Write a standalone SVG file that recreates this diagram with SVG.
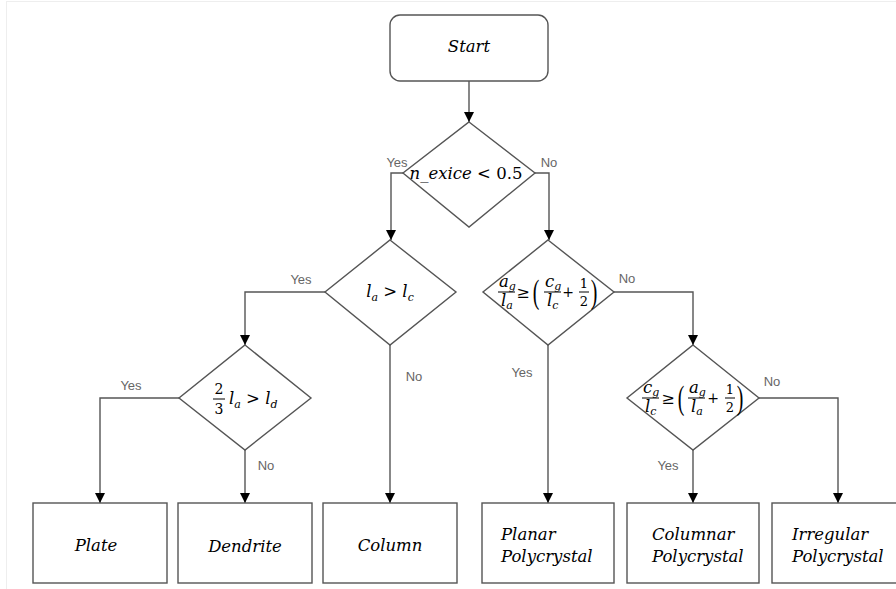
<svg xmlns="http://www.w3.org/2000/svg" width="896" height="589" viewBox="0 0 896 589">
<defs>
<marker id="ah" viewBox="0 0 10 10" refX="10" refY="5" markerWidth="10" markerHeight="10" markerUnits="userSpaceOnUse" orient="auto">
<path d="M0,0 L10,5 L0,10 z" fill="#000"/>
</marker>
<style>
.shape{fill:#fff;stroke:#555;stroke-width:1.4}
.conn{fill:none;stroke:#555;stroke-width:1.4;marker-end:url(#ah)}
.lbl{font-family:"Liberation Sans",Arial,sans-serif;font-size:13px;fill:#666}
.t{font-family:"DejaVu Serif",serif;font-style:italic;font-size:16.5px;fill:#000}
.m{font-family:"DejaVu Serif",serif;font-style:italic;font-size:16.5px;fill:#000}
.ms{font-family:"DejaVu Serif",serif;font-style:italic;font-size:11px;fill:#000}
.u{font-family:"DejaVu Serif",serif;font-style:normal;fill:#000}
.p{font-family:"Liberation Serif",serif;font-style:normal;fill:#000;font-size:22px}
.bar{stroke:#000;stroke-width:1}
</style>
</defs>
<rect width="896" height="589" fill="#fff"/>
<line x1="6.5" y1="1" x2="6.5" y2="589" stroke="#eee" stroke-width="1"/>
<line x1="6" y1="1.5" x2="896" y2="1.5" stroke="#eee" stroke-width="1"/>

<g id="connectors">
<path class="conn" d="M469,81 V122"/>
<path class="conn" d="M403,173 H391 V240"/>
<path class="conn" d="M535,173 H549 V240"/>
<path class="conn" d="M325,292 H245 V345"/>
<path class="conn" d="M390,345 V503"/>
<path class="conn" d="M179,398 H100 V503"/>
<path class="conn" d="M245,450 V503"/>
<path class="conn" d="M548,345 V503"/>
<path class="conn" d="M614,292 H693 V345"/>
<path class="conn" d="M693,450 V503"/>
<path class="conn" d="M759,398 H838 V503"/>
<text class="lbl" x="397" y="167" text-anchor="middle">Yes</text>
<text class="lbl" x="549" y="167" text-anchor="middle">No</text>
<text class="lbl" x="301" y="284" text-anchor="middle">Yes</text>
<text class="lbl" x="414" y="381" text-anchor="middle">No</text>
<text class="lbl" x="131" y="390" text-anchor="middle">Yes</text>
<text class="lbl" x="266" y="470" text-anchor="middle">No</text>
<text class="lbl" x="522" y="377" text-anchor="middle">Yes</text>
<text class="lbl" x="627" y="283" text-anchor="middle">No</text>
<text class="lbl" x="772" y="386" text-anchor="middle">No</text>
<text class="lbl" x="668" y="470" text-anchor="middle">Yes</text>
</g>

<g id="start">
<rect class="shape" x="390" y="15" width="158" height="66" rx="10"/>
<text class="t" x="469" y="52" text-anchor="middle">Start</text>
</g>

<g id="d1">
<path class="shape" d="M469,122 L535,173 L469,227 L403,173 Z"/>
<text class="m" x="466" y="179" text-anchor="middle" font-size="16">n_exice &lt; <tspan class="u">0.5</tspan></text>
</g>

<g id="d2">
<path class="shape" d="M390,240 L456,292 L390,345 L325,292 Z"/>
<text class="m" x="390" y="297" text-anchor="middle">l<tspan class="ms" dy="4">a</tspan><tspan dy="-4"> &gt; l</tspan><tspan class="ms" dy="4">c</tspan></text>
</g>

<g id="d3">
<path class="shape" d="M548,240 L614,292 L548,345 L483,292 Z"/>
<text class="m" x="499" y="287" font-size="14">a<tspan class="ms" font-size="9" dy="3">g</tspan></text>
<line class="bar" x1="498" y1="292" x2="515" y2="292"/>
<text class="m" x="501" y="306" font-size="14">l<tspan class="ms" font-size="9" dy="3">a</tspan></text>
<text class="u" x="523" y="298" font-size="16" text-anchor="middle">≥</text>
<text class="p" transform="translate(536,303) scale(0.9,1.5)" text-anchor="middle">(</text>
<text class="m" x="545" y="287" font-size="14">c<tspan class="ms" font-size="9" dy="3">g</tspan></text>
<line class="bar" x1="544" y1="292" x2="561" y2="292"/>
<text class="m" x="547" y="306" font-size="14">l<tspan class="ms" font-size="9" dy="3">c</tspan></text>
<text class="u" x="568" y="297" font-size="14" text-anchor="middle">+</text>
<text class="u" x="584" y="288" font-size="13" text-anchor="middle">1</text>
<line class="bar" x1="579" y1="292" x2="589" y2="292"/>
<text class="u" x="584" y="306" font-size="13" text-anchor="middle">2</text>
<text class="p" transform="translate(594,303) scale(0.9,1.5)" text-anchor="middle">)</text>
</g>

<g id="d4">
<path class="shape" d="M245,345 L311,398 L245,450 L179,398 Z"/>
<text class="u" x="219" y="394" font-size="14" text-anchor="middle">2</text>
<line class="bar" x1="213" y1="399" x2="225" y2="399"/>
<text class="u" x="219" y="414" font-size="14" text-anchor="middle">3</text>
<text class="m" x="229" y="404">l<tspan class="ms" dy="4">a</tspan><tspan dy="-4"> &gt; l</tspan><tspan class="ms" dy="4">d</tspan></text>
</g>

<g id="d5">
<path class="shape" d="M693,345 L759,398 L693,450 L627,398 Z"/>
<text class="m" x="643" y="393" font-size="14">c<tspan class="ms" font-size="9" dy="3">g</tspan></text>
<line class="bar" x1="642" y1="398" x2="659" y2="398"/>
<text class="m" x="645" y="412" font-size="14">l<tspan class="ms" font-size="9" dy="3">c</tspan></text>
<text class="u" x="668" y="404" font-size="16" text-anchor="middle">≥</text>
<text class="p" transform="translate(681,409) scale(0.9,1.5)" text-anchor="middle">(</text>
<text class="m" x="689" y="393" font-size="14">a<tspan class="ms" font-size="9" dy="3">g</tspan></text>
<line class="bar" x1="688" y1="398" x2="705" y2="398"/>
<text class="m" x="691" y="412" font-size="14">l<tspan class="ms" font-size="9" dy="3">a</tspan></text>
<text class="u" x="713" y="403" font-size="14" text-anchor="middle">+</text>
<text class="u" x="730" y="394" font-size="13" text-anchor="middle">1</text>
<line class="bar" x1="725" y1="398" x2="735" y2="398"/>
<text class="u" x="730" y="412" font-size="13" text-anchor="middle">2</text>
<text class="p" transform="translate(740,409) scale(0.9,1.5)" text-anchor="middle">)</text>
</g>

<g id="plate">
<rect class="shape" x="33" y="503" width="134" height="80"/>
<text class="t" x="96" y="551" text-anchor="middle">Plate</text>
</g>
<g id="dendrite">
<rect class="shape" x="178" y="503" width="134" height="80"/>
<text class="t" x="245" y="552" text-anchor="middle">Dendrite</text>
</g>
<g id="column">
<rect class="shape" x="323" y="503" width="134" height="80"/>
<text class="t" x="390" y="551" text-anchor="middle">Column</text>
</g>
<g id="planar">
<rect class="shape" x="482" y="503" width="132" height="80"/>
<text class="t" x="501" y="540">Planar</text>
<text class="t" x="501" y="562">Polycrystal</text>
</g>
<g id="columnar">
<rect class="shape" x="627" y="503" width="132" height="80"/>
<text class="t" x="652" y="540">Columnar</text>
<text class="t" x="652" y="562">Polycrystal</text>
</g>
<g id="irregular">
<rect class="shape" x="772" y="503" width="134" height="80"/>
<text class="t" x="792" y="540">Irregular</text>
<text class="t" x="792" y="562">Polycrystal</text>
</g>
</svg>
